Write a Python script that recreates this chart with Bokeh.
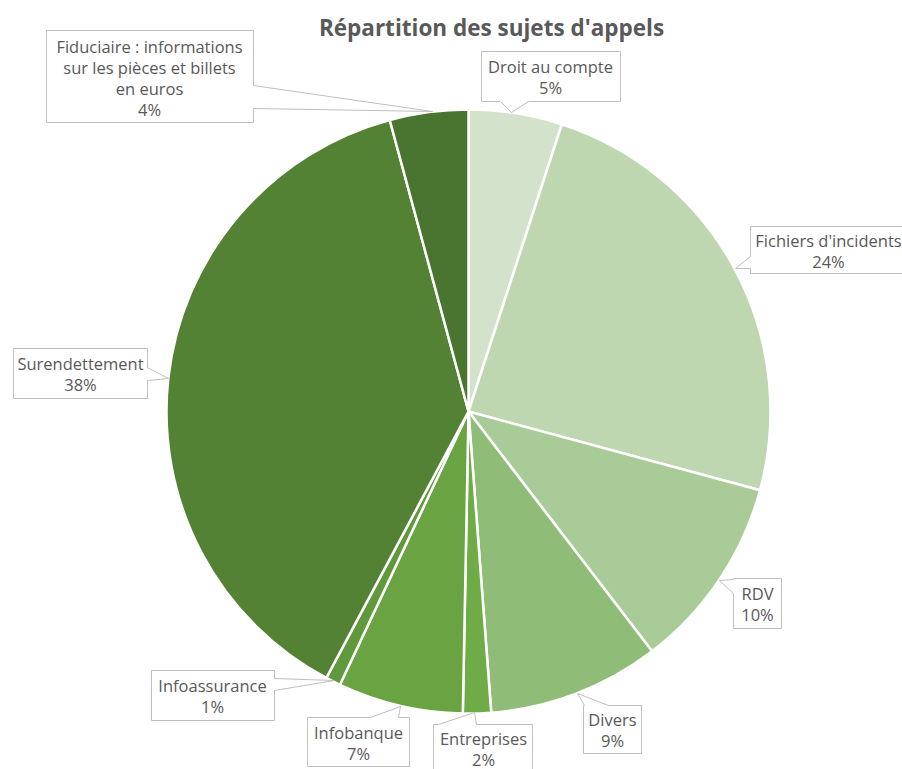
import numpy as np
from bokeh.plotting import figure
from bokeh.models import Range1d, ColumnDataSource
from bokeh.core.properties import value
from bokeh.embed import file_html
from bokeh.resources import INLINE

# ---- data ----
title = "Répartition des sujets d'appels"
categories = ["Droit au compte", "Fichiers d'incidents", "RDV", "Divers", "Entreprises",
              "Infobanque", "Infoassurance", "Surendettement",
              "Fiduciaire : informations\nsur les pièces et billets\nen euros"]
shares = [5.0, 24.2, 10.4, 9.2, 1.5, 6.7, 0.8, 38.0, 4.2]
colors = ["#d3e2cb", "#bed7b1", "#a9cb98", "#8fbd78", "#6fac47",
          "#69a342", "#5f993b", "#548235", "#4a7530"]

# ---- layout (screen pixel coordinates) ----
W, H = 902, 769
CX, CY, R = 468, 411, 302
FONT = "Open Sans"
TXT = "#595959"
LINE = 21

# callout boxes: (x0, y0, x1, y1, side, base0, base1, tip_x, tip_y)
boxes = [
    (481, 51, 620, 101, "bottom", 500, 528, 511, 112),
    (750, 226, 915, 273, "left", 256, 268, 735, 268),
    (733, 578, 781, 628, "left", 579, 593, 719, 580),
    (583, 705, 641, 753, "top", 584, 608, 577, 693),
    (433, 724, 532, 790, "top", 438, 476, 474, 712),
    (307, 717, 409, 766, "top", 370, 398, 400, 706),
    (151, 670, 274, 720, "right", 678, 690, 334, 680),
    (13, 348, 147, 398, "right", 367, 380, 168, 378),
    (46, 30, 253, 122, "right", 85, 108, 432, 111),
]
# text centre of each callout
text_centres = [(550, 76), (828, 250), (757, 603), (612, 729), (483, 748),
                (358, 742), (212, 695), (80, 373), (149, 77)]


def callout(x0, y0, x1, y1, side, b0, b1, tx, ty):
    pts = [(x0, y0)]
    if side == "top":
        pts += [(b0, y0), (tx, ty), (b1, y0)]
    pts += [(x1, y0)]
    if side == "right":
        pts += [(x1, b0), (tx, ty), (x1, b1)]
    pts += [(x1, y1)]
    if side == "bottom":
        pts += [(b1, y1), (tx, ty), (b0, y1)]
    pts += [(x0, y1)]
    if side == "left":
        pts += [(x0, b1), (tx, ty), (x0, b0)]
    return [p[0] for p in pts], [-p[1] for p in pts]


p = figure(width=W, height=H, output_backend="svg", toolbar_location=None,
           x_range=Range1d(0, W), y_range=Range1d(-H, 0),
           min_border=0, outline_line_color=None, background_fill_color="white")
p.axis.visible = False
p.xgrid.visible = False
p.ygrid.visible = False

vals = np.array(shares, dtype=float)
cum = np.concatenate([[0], np.cumsum(vals)]) / vals.sum()
start = np.pi / 2 - cum[:-1] * 2 * np.pi
end = np.pi / 2 - cum[1:] * 2 * np.pi
src = ColumnDataSource(dict(start=start, end=end, color=colors))
p.wedge(x=CX, y=-CY, radius=R, start_angle="start", end_angle="end",
        direction="clock", fill_color="color", line_color="white",
        line_width=2.5, source=src)

xs, ys, tx, ty, texts = [], [], [], [], []
for cat, v, b, c in zip(categories, shares, boxes, text_centres):
    bx, by = callout(*b)
    xs.append(bx)
    ys.append(by)
    lines = cat.split("\n") + [f"{round(v)}%"]
    n = len(lines)
    for i, ln in enumerate(lines):
        tx.append(c[0])
        ty.append(-(c[1] + (i - (n - 1) / 2) * LINE))
        texts.append(ln)

p.patches(xs=xs, ys=ys, fill_color="white", line_color="#bfbfbf", line_width=1)
p.text(x=tx, y=ty, text=texts, text_font=value(FONT), text_font_size="16.5px",
       text_color=TXT, text_align="center", text_baseline="middle")

p.text(x=[491], y=[-27], text=[title], text_font=value(FONT), text_font_size="22.5px",
       text_font_style="bold", text_color=TXT, text_align="center",
       text_baseline="middle")

open("out.html", "w").write(file_html(p, INLINE))
